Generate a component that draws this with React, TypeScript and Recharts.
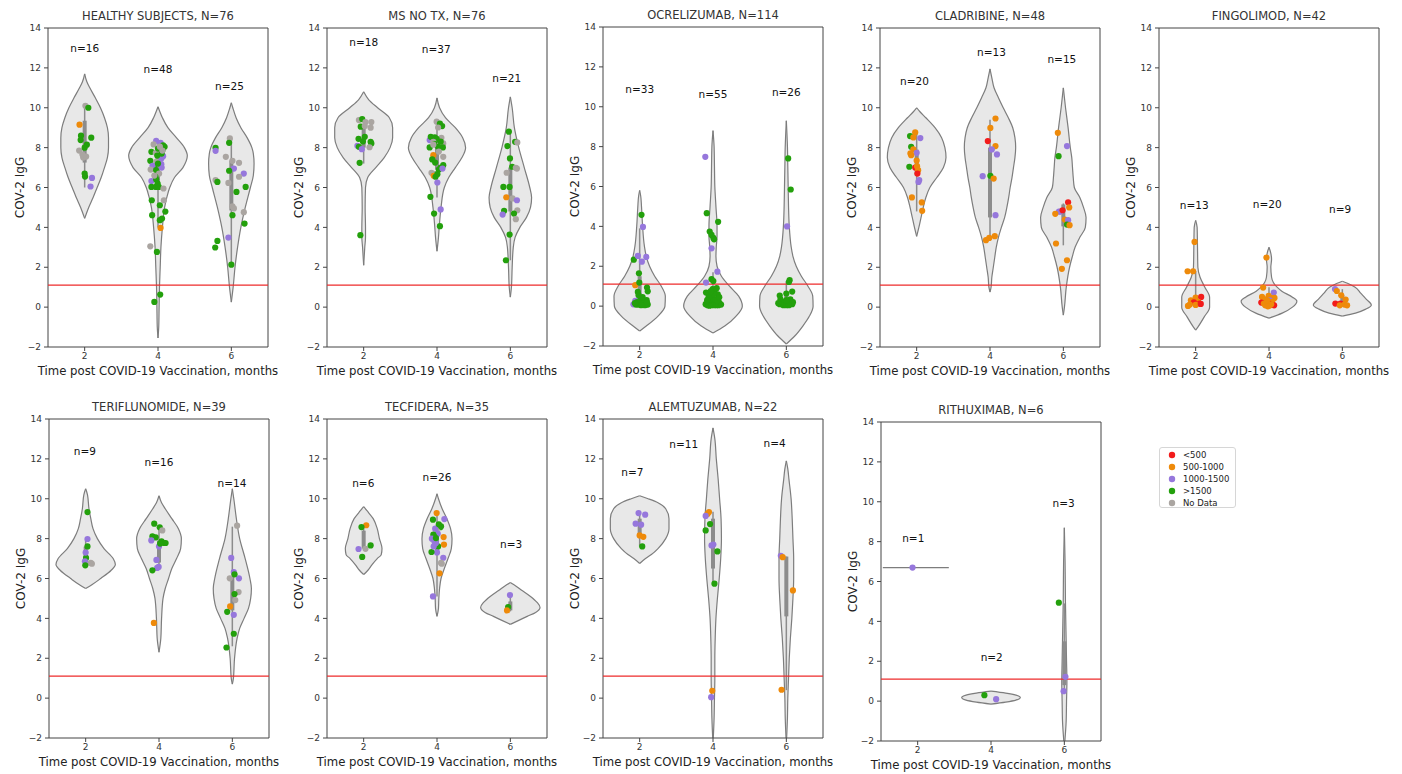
import React from 'react';
import {
  ComposedChart,
  Area,
  Line,
  Scatter,
  XAxis,
  YAxis,
  ReferenceLine,
  ReferenceArea,
  Label,
} from 'recharts';

type Profile = [number, number][]; // [IgG value, half width in months]
type Box = [number, number, number, number]; // whisker low, q1, q3, whisker high
type Pt = [number, number, string]; // month (jittered), IgG, titer group
type NLabel = [number, number, string];

const MONTHS = [2, 4, 6];
const Y_TICKS = [-2, 0, 2, 4, 6, 8, 10, 12, 14];
const CUTOFF = 1.1;
const X_LABEL = 'Time post COVID-19 Vaccination, months';
const Y_LABEL = 'COV-2 IgG';

const GROUP_KEYS = ['r', 'o', 'p', 'g', 'n'];
const GROUP_LABELS = ['<500', '500-1000', '1000-1500', '>1500', 'No Data'];
const COLORS: Record<string, string> = {
  r: '#f21b1b',
  o: '#ee8a0a',
  p: '#9677dc',
  g: '#23a00c',
  n: '#aaa5a1',
};

// ---------- HEALTHY SUBJECTS ----------
const hsV2: Profile = [[4.45, 0], [5, 0.11], [5.5, 0.23], [6, 0.34], [6.5, 0.45], [7, 0.54], [7.5, 0.62], [8, 0.65], [8.5, 0.65], [9, 0.62], [9.5, 0.54], [10, 0.43], [10.5, 0.29], [11, 0.14], [11.3, 0.06], [11.7, 0]];
const hsV4: Profile = [[-1.55, 0], [-1, 0.02], [0, 0.03], [1, 0.04], [2, 0.06], [3, 0.08], [4, 0.12], [5, 0.18], [5.5, 0.24], [6, 0.32], [6.5, 0.45], [7, 0.68], [7.6, 0.8], [8, 0.72], [8.5, 0.5], [9, 0.27], [9.5, 0.12], [10.05, 0]];
const hsV6: Profile = [[0.25, 0], [1, 0.05], [2, 0.1], [3, 0.17], [4, 0.26], [5, 0.38], [6, 0.52], [6.6, 0.6], [7.2, 0.62], [7.7, 0.6], [8, 0.56], [8.5, 0.43], [9, 0.26], [9.5, 0.13], [10, 0.04], [10.25, 0]];
const hsBoxes: Box[] = [[6.0, 7.25, 9.35, 10.0], [4.0, 6.0, 8.0, 8.3], [2.15, 4.85, 7.35, 8.45]];
const hsPoints: Pt[] = [
  [2.02, 10.1, 'n'], [2.1, 10.0, 'g'], [1.86, 9.15, 'o'], [1.9, 8.6, 'g'], [2.18, 8.5, 'g'], [1.89, 8.38, 'g'], [2.06, 8.15, 'g'], [1.85, 7.85, 'n'],
  [1.94, 7.65, 'n'], [1.96, 7.5, 'n'], [2.0, 6.7, 'g'], [2.01, 6.55, 'g'], [2.2, 6.48, 'p'], [2.16, 6.05, 'p'], [2.0, 8.0, 'g'], [2.04, 7.55, 'n'],
  [3.95, 8.34, 'p'], [4.07, 8.24, 'p'], [3.88, 8.16, 'n'], [4.14, 8.11, 'g'], [4.18, 8.04, 'g'], [4.12, 7.87, 'g'], [4.05, 7.96, 'p'], [3.82, 7.79, 'g'],
  [3.94, 7.74, 'n'], [4.14, 7.57, 'p'], [4.0, 7.54, 'n'], [4.09, 7.46, 'p'], [3.79, 7.34, 'g'], [3.95, 7.29, 'n'], [4.09, 7.17, 'p'], [3.89, 7.04, 'g'],
  [3.85, 7.09, 'p'], [3.8, 6.9, 'n'], [3.95, 6.87, 'g'], [4.03, 6.7, 'n'], [3.93, 6.54, 'g'], [3.82, 6.32, 'p'], [3.95, 6.4, 'g'], [3.99, 6.2, 'g'],
  [3.82, 6.03, 'g'], [3.94, 6.03, 'g'], [4.02, 6.03, 'g'], [4.15, 5.95, 'n'], [4.16, 5.36, 'n'], [3.83, 5.36, 'g'], [4.05, 5.11, 'g'], [4.2, 4.79, 'g'],
  [3.84, 4.61, 'g'], [4.11, 4.44, 'g'], [4.05, 4.36, 'g'], [4.07, 3.97, 'o'], [3.79, 3.05, 'n'], [3.97, 2.77, 'g'], [4.06, 0.63, 'g'], [3.9, 0.26, 'g'],
  [4.1, 7.7, 'g'], [4.0, 7.95, 'g'], [4.05, 8.05, 'n'], [3.98, 7.6, 'g'], [4.1, 7.0, 'p'], [3.9, 6.6, 'n'], [4.0, 7.2, 'g'], [4.12, 7.85, 'n'],
  [5.96, 8.46, 'n'], [5.94, 8.24, 'g'], [5.57, 7.99, 'g'], [5.57, 7.84, 'p'], [5.85, 7.54, 'n'], [6.03, 7.34, 'n'], [6.21, 7.24, 'n'], [6.07, 6.95, 'p'],
  [6.34, 6.7, 'p'], [5.94, 6.84, 'g'], [6.21, 6.54, 'n'], [5.57, 6.37, 'n'], [5.62, 6.28, 'g'], [5.92, 6.23, 'n'], [6.14, 5.78, 'g'], [6.39, 6.03, 'g'],
  [6.03, 5.06, 'n'], [6.07, 4.95, 'n'], [6.03, 4.61, 'g'], [6.34, 4.76, 'n'], [6.36, 4.19, 'g'], [5.92, 3.49, 'p'], [5.62, 3.32, 'g'], [5.56, 2.99, 'g'], [6.0, 2.13, 'g'],
];
const hsN: NLabel[] = [[2, 13.0, 'n=16'], [4, 11.95, 'n=48'], [5.95, 11.1, 'n=25']];

// ---------- MS NO TX ----------
const msV2: Profile = [[2.1, 0], [3, 0.03], [3.5, 0.05], [4, 0.05], [5, 0.04], [6, 0.05], [6.5, 0.11], [7, 0.33], [7.5, 0.56], [8, 0.72], [8.5, 0.79], [9, 0.79], [9.5, 0.7], [10, 0.38], [10.4, 0.14], [10.8, 0]];
const msV4: Profile = [[2.8, 0], [3.5, 0.04], [4, 0.06], [5, 0.11], [6, 0.2], [6.5, 0.32], [7, 0.5], [7.5, 0.68], [8, 0.78], [8.5, 0.7], [9, 0.5], [9.5, 0.23], [10, 0.07], [10.5, 0]];
const msV6: Profile = [[0.5, 0], [1, 0.03], [2, 0.05], [3, 0.08], [3.5, 0.13], [4, 0.26], [4.5, 0.44], [5, 0.55], [5.5, 0.58], [6, 0.53], [7, 0.38], [8, 0.23], [9, 0.11], [10, 0.05], [10.55, 0]];
const msBoxes: Box[] = [[7.2, 8.0, 9.1, 9.35], [5.5, 6.9, 8.4, 9.3], [2.35, 4.8, 7.0, 8.7]];
const msPoints: Pt[] = [
  [1.87, 9.38, 'n'], [1.96, 9.43, 'g'], [2.05, 9.28, 'n'], [2.21, 9.28, 'n'], [1.92, 9.05, 'g'], [2.03, 9.08, 'n'], [2.19, 9.0, 'n'], [1.86, 8.44, 'g'],
  [2.03, 8.54, 'g'], [1.98, 8.31, 'g'], [2.19, 8.29, 'g'], [2.21, 8.21, 'g'], [1.83, 8.09, 'p'], [1.87, 8.04, 'g'], [2.16, 8.02, 'n'], [1.95, 7.92, 'p'],
  [1.89, 7.24, 'g'], [1.91, 3.61, 'g'],
  [3.99, 9.3, 'n'], [4.08, 9.21, 'g'], [4.14, 9.08, 'g'], [4.03, 9.01, 'n'], [3.8, 8.38, 'p'], [3.83, 8.54, 'g'], [3.94, 8.51, 'g'], [4.12, 8.49, 'n'],
  [3.99, 8.44, 'g'], [3.9, 8.29, 'n'], [3.94, 8.18, 'g'], [4.17, 8.21, 'n'], [4.08, 8.13, 'n'], [4.03, 8.04, 'g'], [4.16, 8.01, 'g'], [3.8, 8.01, 'g'],
  [3.9, 7.62, 'o'], [3.87, 7.41, 'g'], [4.17, 7.54, 'n'], [4.17, 7.12, 'g'], [4.1, 7.0, 'g'], [4.05, 6.9, 'g'], [4.15, 6.95, 'p'], [3.85, 6.74, 'n'],
  [3.92, 6.67, 'n'], [3.91, 6.59, 'o'], [3.96, 6.54, 'g'], [4.01, 6.67, 'g'], [4.01, 6.25, 'p'], [3.82, 5.53, 'g'], [4.1, 4.9, 'p'], [3.92, 4.69, 'g'],
  [4.08, 4.06, 'g'], [4.1, 8.3, 'g'], [4.05, 7.8, 'n'], [3.95, 7.25, 'g'], [3.9, 8.15, 'n'],
  [5.96, 8.8, 'g'], [6.13, 8.29, 'g'], [6.19, 8.26, 'n'], [5.92, 8.08, 'g'], [5.99, 7.46, 'g'], [6.05, 7.04, 'g'], [6.15, 6.99, 'n'], [6.18, 6.95, 'n'],
  [5.9, 6.74, 'n'], [5.81, 6.03, 'g'], [5.98, 6.03, 'g'], [5.89, 5.51, 'o'], [6.06, 5.45, 'n'], [6.18, 5.36, 'p'], [5.83, 4.83, 'g'], [6.19, 4.86, 'n'],
  [5.79, 4.64, 'p'], [6.1, 4.69, 'g'], [6.15, 4.41, 'n'], [5.98, 3.64, 'g'], [5.88, 2.35, 'g'],
];
const msN: NLabel[] = [[2, 13.3, 'n=18'], [3.98, 12.93, 'n=37'], [5.9, 11.47, 'n=21']];

// ---------- OCRELIZUMAB ----------
const ocV2: Profile = [[-1.25, 0], [-1, 0.18], [-0.5, 0.5], [0, 0.69], [0.5, 0.7], [1, 0.59], [1.5, 0.41], [2, 0.27], [2.5, 0.18], [3, 0.13], [4, 0.08], [5, 0.05], [5.5, 0.03], [5.8, 0]];
const ocV4: Profile = [[-1.35, 0], [-1, 0.32], [-0.5, 0.63], [0, 0.8], [0.5, 0.7], [1, 0.45], [1.5, 0.23], [2, 0.11], [2.5, 0.08], [3, 0.09], [3.5, 0.11], [4, 0.11], [5, 0.08], [6, 0.05], [7, 0.04], [8, 0.03], [8.8, 0]];
const ocV6: Profile = [[-1.9, 0], [-1.5, 0.23], [-1, 0.45], [-0.5, 0.63], [0, 0.73], [0.5, 0.72], [1, 0.59], [1.5, 0.41], [2, 0.27], [2.5, 0.18], [3, 0.13], [4, 0.08], [5, 0.06], [6, 0.05], [7, 0.04], [8, 0.03], [9.3, 0]];
const ocBoxes: Box[] = [[0.05, 0.15, 1.5, 3.9], [0.05, 0.1, 1.0, 1.7], [0.05, 0.1, 0.6, 1.25]];
const ocPoints: Pt[] = [
  [2.05, 4.58, 'g'], [2.09, 3.97, 'p'], [1.84, 2.33, 'g'], [1.95, 2.52, 'p'], [2.18, 2.47, 'p'], [2.06, 2.23, 'p'], [1.98, 1.65, 'g'], [1.88, 1.05, 'o'],
  [1.99, 1.18, 'g'], [1.95, 0.71, 'g'], [2.2, 0.93, 'g'], [2.22, 0.74, 'g'], [2.02, 0.34, 'g'], [1.88, 0.26, 'p'], [1.83, 0.09, 'p'],
  [1.9, 0.08, 'g'], [1.96, 0.08, 'g'], [2.03, 0.08, 'g'], [2.1, 0.08, 'g'], [2.17, 0.08, 'g'], [2.22, 0.08, 'g'], [2.06, 0.25, 'g'], [2.15, 0.25, 'g'],
  [2.0, 0.15, 'g'], [2.12, 0.15, 'g'], [1.93, 0.2, 'g'], [2.19, 0.3, 'g'], [2.08, 0.45, 'g'], [1.97, 0.55, 'g'], [2.14, 0.05, 'g'], [1.87, 0.15, 'g'],
  [2.04, 0.05, 'g'], [2.2, 0.18, 'g'],
  [3.79, 7.49, 'p'], [3.83, 4.66, 'g'], [4.14, 4.23, 'g'], [3.91, 3.74, 'g'], [3.96, 3.57, 'g'], [4.01, 3.42, 'g'], [4.03, 3.35, 'g'], [3.96, 2.9, 'p'],
  [4.12, 1.73, 'p'], [3.81, 1.18, 'p'], [3.96, 1.35, 'g'], [4.01, 1.26, 'g'], [3.81, 0.68, 'g'], [3.87, 0.64, 'g'], [3.99, 0.85, 'g'], [4.04, 0.71, 'g'],
  [4.13, 0.59, 'g'], [3.83, 0.12, 'g'], [3.89, 0.12, 'g'], [3.95, 0.12, 'g'], [4.01, 0.12, 'g'], [4.07, 0.12, 'g'], [4.12, 0.12, 'g'], [4.19, 0.12, 'g'],
  [3.86, 0.27, 'g'], [3.92, 0.24, 'g'], [3.98, 0.24, 'g'], [4.05, 0.24, 'g'], [4.1, 0.2, 'g'], [4.16, 0.2, 'g'], [3.96, 0.05, 'g'], [4.03, 0.05, 'g'],
  [3.85, 0.05, 'g'], [4.09, 0.05, 'g'], [4.15, 0.05, 'g'], [3.93, 0.35, 'g'], [4.0, 0.4, 'g'], [4.22, 0.08, 'g'], [3.8, 0.1, 'g'], [4.07, 0.32, 'g'],
  [3.9, 0.02, 'g'], [4.12, 0.3, 'g'], [3.88, 0.45, 'g'], [4.17, 0.45, 'g'], [4.02, 0.6, 'g'], [3.94, 0.75, 'g'], [4.1, 0.9, 'g'], [3.84, 0.3, 'g'],
  [6.05, 7.41, 'g'], [6.12, 5.85, 'g'], [6.02, 4.0, 'p'], [6.09, 1.3, 'g'], [6.07, 1.21, 'g'], [6.0, 0.63, 'g'], [6.16, 0.73, 'g'], [5.82, 0.53, 'g'],
  [5.84, 0.34, 'g'], [6.11, 0.34, 'g'], [5.82, 0.1, 'g'], [5.89, 0.1, 'g'], [5.95, 0.1, 'g'], [6.02, 0.1, 'g'], [6.09, 0.1, 'g'], [6.16, 0.1, 'g'],
  [5.87, 0.22, 'g'], [5.96, 0.22, 'g'], [6.05, 0.22, 'g'], [6.13, 0.22, 'g'], [6.18, 0.2, 'g'], [5.92, 0.05, 'g'], [6.0, 0.05, 'g'], [6.07, 0.05, 'g'],
  [5.78, 0.15, 'g'], [6.0, 0.3, 'g'],
];
const ocN: NLabel[] = [[2, 10.9, 'n=33'], [4, 10.65, 'n=55'], [6, 10.72, 'n=26']];

// ---------- CLADRIBINE ----------
const clV2: Profile = [[3.55, 0], [4, 0.06], [4.5, 0.12], [5, 0.18], [5.5, 0.25], [6, 0.36], [6.5, 0.55], [7, 0.73], [7.5, 0.8], [8, 0.77], [8.5, 0.68], [9, 0.5], [9.5, 0.25], [9.8, 0.09], [10, 0]];
const clV4: Profile = [[0.75, 0], [1, 0.03], [1.5, 0.05], [2, 0.09], [2.5, 0.13], [3, 0.17], [3.5, 0.23], [4, 0.31], [4.5, 0.4], [5, 0.46], [5.5, 0.51], [6, 0.55], [6.5, 0.6], [7, 0.64], [7.5, 0.68], [8, 0.7], [8.5, 0.68], [9, 0.62], [9.5, 0.5], [10, 0.36], [10.5, 0.23], [11, 0.11], [11.5, 0.05], [11.95, 0]];
const clV6: Profile = [[-0.4, 0], [0, 0.03], [1, 0.08], [2, 0.17], [2.5, 0.24], [3, 0.32], [3.5, 0.45], [4, 0.6], [4.5, 0.62], [5, 0.55], [5.5, 0.45], [6, 0.3], [6.5, 0.27], [7, 0.25], [7.5, 0.23], [8, 0.19], [9, 0.13], [10, 0.06], [11, 0]];
const clBoxes: Box[] = [[4.8, 6.6, 7.9, 8.7], [3.4, 4.5, 8.0, 9.4], [3.1, 4.05, 5.15, 5.2]];
const clPoints: Pt[] = [
  [1.96, 8.76, 'o'], [1.82, 8.58, 'g'], [1.91, 8.51, 'o'], [2.1, 8.48, 'p'], [1.85, 8.04, 'g'], [1.91, 7.91, 'o'], [2.0, 7.74, 'p'], [1.83, 7.71, 'o'],
  [1.85, 7.62, 'o'], [1.8, 7.04, 'g'], [1.96, 7.0, 'r'], [2.01, 7.07, 'o'], [2.04, 6.87, 'o'], [2.02, 6.7, 'r'], [2.07, 6.37, 'p'], [2.05, 6.28, 'p'],
  [1.87, 5.5, 'o'], [2.14, 5.25, 'o'], [2.15, 4.83, 'o'], [2.0, 7.35, 'o'],
  [4.15, 9.46, 'o'], [4.01, 8.99, 'o'], [3.94, 8.33, 'r'], [4.15, 8.08, 'o'], [4.05, 7.91, 'p'], [4.19, 7.66, 'p'], [3.8, 6.57, 'p'], [4.01, 6.59, 'g'],
  [4.1, 6.45, 'o'], [4.15, 4.61, 'p'], [3.89, 3.36, 'o'], [3.98, 3.47, 'o'], [4.13, 3.56, 'o'],
  [5.85, 8.74, 'o'], [6.1, 8.08, 'p'], [5.87, 7.57, 'g'], [6.13, 5.26, 'r'], [6.16, 5.0, 'o'], [5.92, 4.79, 'p'], [5.88, 4.79, 'p'], [5.98, 4.86, 'r'],
  [5.78, 4.68, 'o'], [6.04, 4.39, 'o'], [6.13, 4.36, 'p'], [6.1, 4.14, 'g'], [6.17, 4.11, 'o'], [5.8, 3.19, 'o'], [6.1, 2.35, 'o'], [5.96, 1.92, 'o'],
];
const clN: NLabel[] = [[1.94, 11.35, 'n=20'], [4.04, 12.78, 'n=13'], [5.96, 12.43, 'n=15']];

// ---------- FINGOLIMOD ----------
const fiV2: Profile = [[-1.15, 0], [-1, 0.06], [-0.5, 0.23], [0, 0.38], [0.5, 0.38], [1, 0.25], [1.5, 0.12], [2, 0.06], [3, 0.05], [4, 0.04], [4.35, 0]];
const fiV4: Profile = [[-0.55, 0], [-0.3, 0.36], [0, 0.64], [0.3, 0.76], [0.5, 0.64], [0.8, 0.35], [1, 0.22], [1.5, 0.07], [2, 0.05], [2.4, 0.07], [2.7, 0.05], [3, 0]];
const fiV6: Profile = [[-0.45, 0], [-0.3, 0.36], [-0.1, 0.64], [0.1, 0.79], [0.4, 0.65], [0.7, 0.5], [1, 0.35], [1.2, 0.14], [1.3, 0]];
const fiBoxes: Box[] = [[0.05, 0.15, 0.45, 1.8], [0.05, 0.15, 0.5, 1.0], [0.07, 0.1, 0.6, 0.9]];
const fiPoints: Pt[] = [
  [1.97, 3.27, 'o'], [1.78, 1.8, 'o'], [1.93, 1.8, 'o'], [1.87, 0.34, 'o'], [2.0, 0.48, 'o'], [2.15, 0.51, 'r'], [2.07, 0.26, 'o'], [1.95, 0.24, 'r'],
  [2.11, 0.18, 'r'], [1.84, 0.13, 'o'], [1.79, 0.06, 'o'], [2.0, 0.11, 'o'], [2.14, 0.16, 'r'],
  [3.93, 2.49, 'o'], [3.84, 0.98, 'o'], [4.13, 0.73, 'p'], [3.99, 0.56, 'o'], [3.81, 0.51, 'o'], [3.91, 0.39, 'o'], [4.05, 0.46, 'o'], [4.15, 0.46, 'o'],
  [4.02, 0.34, 'p'], [3.79, 0.23, 'r'], [3.95, 0.26, 'o'], [4.09, 0.26, 'o'], [4.0, 0.18, 'r'], [3.9, 0.09, 'o'], [4.02, 0.08, 'o'], [4.14, 0.09, 'r'],
  [3.86, 0.18, 'o'], [3.95, 0.34, 'o'], [4.06, 0.14, 'o'], [3.97, 0.04, 'o'],
  [5.8, 0.91, 'p'], [5.85, 0.81, 'o'], [5.97, 0.59, 'o'], [6.09, 0.38, 'o'], [5.81, 0.18, 'r'], [5.95, 0.18, 'r'], [6.06, 0.13, 'o'], [6.13, 0.09, 'o'], [5.93, 0.09, 'o'],
];
const fiN: NLabel[] = [[1.96, 5.1, 'n=13'], [3.95, 5.16, 'n=20'], [5.94, 4.9, 'n=9']];

// ---------- TERIFLUNOMIDE ----------
const teV2: Profile = [[5.5, 0], [5.7, 0.18], [6, 0.41], [6.4, 0.69], [6.7, 0.81], [7, 0.75], [7.5, 0.5], [8, 0.32], [8.5, 0.2], [9, 0.14], [9.5, 0.09], [10.2, 0.05], [10.5, 0]];
const teV4: Profile = [[2.3, 0], [3, 0.05], [4, 0.07], [5, 0.11], [5.5, 0.17], [6, 0.26], [6.5, 0.35], [7, 0.48], [7.5, 0.59], [8, 0.61], [8.5, 0.53], [9, 0.35], [9.5, 0.17], [9.8, 0.07], [10.15, 0]];
const teV6: Profile = [[0.7, 0], [1, 0.03], [2, 0.06], [3, 0.13], [3.5, 0.2], [4, 0.32], [4.5, 0.44], [5, 0.5], [5.5, 0.52], [6, 0.48], [7, 0.35], [8, 0.2], [9, 0.11], [10, 0.04], [10.5, 0]];
const teBoxes: Box[] = [[6.7, 6.8, 7.6, 8.0], [6.5, 6.8, 7.9, 8.5], [2.6, 4.4, 6.1, 8.6]];
const tePoints: Pt[] = [
  [2.05, 9.33, 'g'], [2.05, 7.98, 'p'], [2.05, 7.61, 'g'], [2.01, 7.03, 'g'], [1.98, 6.86, 'p'], [2.14, 6.78, 'n'], [2.17, 6.74, 'n'], [1.99, 6.66, 'g'], [2.0, 7.3, 'p'],
  [3.87, 8.75, 'g'], [4.02, 8.57, 'g'], [4.09, 8.41, 'n'], [3.82, 8.11, 'g'], [3.91, 8.06, 'g'], [3.79, 7.91, 'p'], [4.07, 7.86, 'g'], [4.14, 7.78, 'g'],
  [4.18, 7.78, 'g'], [4.0, 7.61, 'p'], [4.03, 7.75, 'g'], [3.93, 6.93, 'p'], [3.95, 6.53, 'p'], [3.99, 6.58, 'p'], [3.82, 6.41, 'g'], [3.86, 3.77, 'o'],
  [6.13, 8.65, 'n'], [5.97, 7.03, 'p'], [6.04, 6.32, 'p'], [6.18, 6.01, 'p'], [5.93, 6.01, 'n'], [6.06, 6.21, 'g'], [6.17, 5.32, 'n'], [6.06, 5.22, 'g'],
  [6.08, 4.92, 'n'], [5.94, 4.6, 'o'], [5.86, 4.33, 'g'], [6.04, 4.18, 'p'], [6.04, 3.23, 'g'], [5.84, 2.54, 'g'],
];
const teN: NLabel[] = [[1.98, 12.38, 'n=9'], [4, 11.83, 'n=16'], [5.99, 10.8, 'n=14']];

// ---------- TECFIDERA ----------
const tcV2: Profile = [[6.2, 0], [6.4, 0.11], [6.7, 0.23], [7, 0.37], [7.2, 0.48], [7.5, 0.5], [8, 0.43], [8.5, 0.37], [9, 0.26], [9.4, 0.09], [9.6, 0]];
const tcV4: Profile = [[4.1, 0], [4.5, 0.04], [5, 0.05], [5.5, 0.07], [6, 0.11], [6.5, 0.2], [7, 0.3], [7.5, 0.39], [8, 0.41], [8.5, 0.37], [9, 0.27], [9.5, 0.14], [10, 0.04], [10.25, 0]];
const tcV6: Profile = [[3.7, 0], [3.9, 0.23], [4.1, 0.46], [4.3, 0.69], [4.55, 0.81], [4.8, 0.73], [5.1, 0.55], [5.4, 0.32], [5.7, 0.09], [5.8, 0]];
const tcBoxes: Box[] = [[7.5, 7.5, 8.4, 8.6], [5.1, 7.3, 8.5, 9.3], [4.35, 4.4, 4.85, 5.15]];
const tcPoints: Pt[] = [
  [2.07, 8.67, 'o'], [1.94, 8.58, 'g'], [2.05, 7.49, 'n'], [1.86, 7.48, 'p'], [2.19, 7.66, 'g'], [1.96, 7.08, 'g'],
  [3.99, 9.28, 'o'], [4.2, 8.98, 'p'], [3.89, 8.95, 'g'], [4.09, 8.57, 'g'], [4.01, 8.53, 'n'], [3.95, 8.5, 'p'], [4.11, 8.62, 'g'], [4.02, 8.25, 'p'],
  [3.9, 8.2, 'g'], [3.92, 8.11, 'g'], [4.18, 8.08, 'o'], [3.86, 8.0, 'p'], [3.93, 7.86, 'p'], [4.03, 7.61, 'g'], [3.97, 7.78, 'p'], [4.19, 7.7, 'o'],
  [4.0, 7.31, 'p'], [3.85, 7.33, 'g'], [4.17, 7.04, 'p'], [4.13, 6.74, 'n'], [4.11, 6.78, 'n'], [4.07, 6.26, 'o'], [3.89, 5.1, 'p'], [4.05, 8.72, 'g'],
  [3.91, 7.61, 'p'], [3.97, 8.03, 'g'],
  [5.99, 5.17, 'p'], [5.94, 4.57, 'g'], [5.91, 4.4, 'o'],
];
const tcN: NLabel[] = [[1.99, 10.8, 'n=6'], [4, 11.07, 'n=26'], [6.02, 7.75, 'n=3']];

// ---------- ALEMTUZUMAB ----------
const alV2: Profile = [[6.75, 0], [7, 0.16], [7.2, 0.32], [7.5, 0.5], [8, 0.71], [8.5, 0.8], [9, 0.8], [9.5, 0.71], [9.8, 0.5], [10, 0.23], [10.15, 0]];
const alV4: Profile = [[-2.3, 0], [-1, 0.03], [0, 0.04], [1, 0.05], [2, 0.05], [3, 0.06], [4, 0.08], [5, 0.12], [6, 0.17], [7, 0.21], [8, 0.23], [9, 0.22], [10, 0.18], [11, 0.14], [12, 0.09], [13, 0.05], [13.55, 0]];
const alV6: Profile = [[-2.3, 0], [-1, 0.03], [0, 0.04], [1, 0.06], [2, 0.08], [3, 0.11], [4, 0.15], [5, 0.18], [6, 0.2], [7, 0.2], [8, 0.18], [9, 0.16], [10, 0.13], [11, 0.07], [11.5, 0.04], [11.9, 0]];
const alBoxes: Box[] = [[7.6, 8.1, 9.0, 9.3], [5.7, 6.5, 9.0, 9.35], [0.4, 4.1, 7.1, 7.1]];
const alPoints: Pt[] = [
  [1.97, 9.28, 'p'], [2.15, 9.2, 'p'], [1.89, 8.75, 'p'], [2.04, 8.7, 'p'], [2.0, 8.16, 'o'], [2.1, 8.09, 'o'], [2.07, 7.61, 'g'],
  [3.89, 9.33, 'o'], [3.85, 9.24, 'o'], [3.8, 9.14, 'p'], [3.92, 8.73, 'g'], [3.8, 8.41, 'g'], [4.01, 7.7, 'p'], [3.96, 7.66, 'p'], [4.12, 7.36, 'g'],
  [4.04, 5.74, 'g'], [3.98, 0.37, 'o'], [3.95, 0.05, 'p'],
  [5.85, 7.14, 'p'], [5.9, 7.07, 'o'], [6.18, 5.4, 'o'], [5.87, 0.42, 'o'],
];
const alN: NLabel[] = [[1.8, 11.36, 'n=7'], [3.2, 12.76, 'n=11'], [5.68, 12.8, 'n=4']];

// ---------- RITHUXIMAB ----------
const riSingle: [number, number, number] = [1.05, 2.85, 6.7]; // n=1 drawn as a flat line
const riV4: Profile = [[-0.15, 0], [-0.05, 0.4], [0.05, 0.68], [0.18, 0.8], [0.3, 0.68], [0.4, 0.4], [0.5, 0]];
const riV6: Profile = [[-2.3, 0], [-1, 0.05], [0, 0.06], [1, 0.07], [2, 0.06], [3, 0.05], [5, 0.03], [7, 0.02], [8.7, 0]];
const riBoxes: (Box | null)[] = [null, null, [0.5, 0.8, 3.0, 4.9]];
const riPoints: Pt[] = [
  [1.86, 6.7, 'p'], [3.82, 0.3, 'g'], [4.14, 0.1, 'p'], [5.85, 4.94, 'g'], [6.03, 1.22, 'p'], [5.98, 0.5, 'p'],
];
const riN: NLabel[] = [[1.88, 8.17, 'n=1'], [4.02, 2.22, 'n=2'], [5.98, 9.93, 'n=3']];

interface PanelDef {
  title: string;
  left: number;
  top: number;
  violins: (Profile | null)[];
  boxes: (Box | null)[];
  points: Pt[];
  ns: NLabel[];
  single?: [number, number, number];
}

const PANELS: PanelDef[] = [
  { title: 'HEALTHY SUBJECTS, N=76', left: 48, top: 28, violins: [hsV2, hsV4, hsV6], boxes: hsBoxes, points: hsPoints, ns: hsN },
  { title: 'MS NO TX, N=76', left: 327, top: 28, violins: [msV2, msV4, msV6], boxes: msBoxes, points: msPoints, ns: msN },
  { title: 'OCRELIZUMAB, N=114', left: 603, top: 27, violins: [ocV2, ocV4, ocV6], boxes: ocBoxes, points: ocPoints, ns: ocN },
  { title: 'CLADRIBINE, N=48', left: 880, top: 28, violins: [clV2, clV4, clV6], boxes: clBoxes, points: clPoints, ns: clN },
  { title: 'FINGOLIMOD, N=42', left: 1159, top: 28, violins: [fiV2, fiV4, fiV6], boxes: fiBoxes, points: fiPoints, ns: fiN },
  { title: 'TERIFLUNOMIDE, N=39', left: 49, top: 419, violins: [teV2, teV4, teV6], boxes: teBoxes, points: tePoints, ns: teN },
  { title: 'TECFIDERA, N=35', left: 327, top: 419, violins: [tcV2, tcV4, tcV6], boxes: tcBoxes, points: tcPoints, ns: tcN },
  { title: 'ALEMTUZUMAB, N=22', left: 603, top: 419, violins: [alV2, alV4, alV6], boxes: alBoxes, points: alPoints, ns: alN },
  { title: 'RITHUXIMAB, N=6', left: 881, top: 422, violins: [null, riV4, riV6], boxes: riBoxes, points: riPoints, ns: riN, single: riSingle },
];

const FONT = '"DejaVu Sans", sans-serif';
const PLOT_W = 220;
const PLOT_H = 319;
const ML = 40;
const MT = 28;
const MR = 10;
const XH = 36;

const fmtTick = (v: number) => (v < 0 ? `\u2212${Math.abs(v)}` : `${v}`);

const dotShape = (p: any) => (
  <circle cx={p.cx} cy={p.cy} r={3.1} fill={COLORS[p.payload.c]} />
);

const textShape = (p: any) => (
  <text x={p.cx} y={p.cy} textAnchor="middle" dominantBaseline="central" fontSize={10.5} fill="#111" fontFamily={FONT}>
    {p.payload.t}
  </text>
);

const yLabel = (p: any) => {
  const vb = p.viewBox;
  const x = vb.x + 12;
  const y = vb.y + vb.height / 2;
  return (
    <text x={x} y={y} transform={`rotate(-90 ${x} ${y})`} textAnchor="middle" dominantBaseline="central" fontSize={12} fill="#222" fontFamily={FONT}>
      {Y_LABEL}
    </text>
  );
};

function Panel({ def }: { def: PanelDef }) {
  const tick = { fontSize: 9, fill: '#333', fontFamily: FONT };
  return (
    <div style={{ position: 'absolute', left: def.left - ML, top: def.top - MT }}>
      <div
        style={{
          position: 'absolute',
          left: ML,
          top: MT - 18,
          width: PLOT_W,
          textAlign: 'center',
          fontSize: 11.5,
          fontWeight: 'normal',
          lineHeight: '12px',
          color: '#333',
          whiteSpace: 'nowrap',
        }}
      >
        {def.title}
      </div>
      <ComposedChart
        layout="vertical"
        width={ML + PLOT_W + MR}
        height={MT + PLOT_H + XH}
        margin={{ top: MT, right: MR, bottom: 0, left: 0 }}
      >
        <XAxis
          type="number"
          dataKey="x"
          domain={[1, 7]}
          ticks={MONTHS}
          allowDataOverflow
          height={XH}
          axisLine={false}
          tickSize={4}
          tickLine={{ stroke: '#444' }}
          tick={tick}
          label={{ value: X_LABEL, position: 'insideBottom', offset: 8, fontSize: 11.7, fill: '#222', fontFamily: FONT }}
        />
        <YAxis
          type="number"
          dataKey="y"
          domain={[-2, 14]}
          ticks={Y_TICKS}
          reversed
          allowDataOverflow
          width={ML}
          axisLine={false}
          tickSize={4}
          tickMargin={3}
          tickLine={{ stroke: '#444' }}
          tick={tick}
          tickFormatter={fmtTick}
        >
          <Label content={yLabel} />
        </YAxis>
        {def.violins.map((prof, i) =>
          prof ? (
            <Area
              key={`v${i}`}
              data={prof.map(([y, hw]) => ({ y, w: [MONTHS[i] - hw, MONTHS[i] + hw] }))}
              dataKey="w"
              type="monotone"
              fill="#e8e8e8"
              fillOpacity={1}
              stroke="#7d7d7d"
              strokeWidth={1.2}
              dot={false}
              activeDot={false}
              isAnimationActive={false}
            />
          ) : null,
        )}
        {def.single ? (
          <Line
            data={[
              { x: def.single[0], y: def.single[2] },
              { x: def.single[1], y: def.single[2] },
            ]}
            dataKey="x"
            stroke="#7d7d7d"
            strokeWidth={1.2}
            dot={false}
            activeDot={false}
            isAnimationActive={false}
          />
        ) : null}
        {def.boxes.map((b, i) =>
          b ? (
            <Line
              key={`w${i}`}
              data={[
                { x: MONTHS[i], y: b[0] },
                { x: MONTHS[i], y: b[3] },
              ]}
              dataKey="x"
              stroke="#8c8c8c"
              strokeWidth={1.5}
              dot={false}
              activeDot={false}
              isAnimationActive={false}
            />
          ) : null,
        )}
        {def.boxes.map((b, i) =>
          b ? (
            <Line
              key={`b${i}`}
              data={[
                { x: MONTHS[i], y: b[1] },
                { x: MONTHS[i], y: b[2] },
              ]}
              dataKey="x"
              stroke="#8c8c8c"
              strokeWidth={4}
              dot={false}
              activeDot={false}
              isAnimationActive={false}
            />
          ) : null,
        )}
        <ReferenceLine y={CUTOFF} stroke="#ee2b2b" strokeWidth={1.3} />
        <Scatter
          data={def.points.map(([x, y, c]) => ({ x, y, c }))}
          shape={dotShape}
          isAnimationActive={false}
        />
        <Scatter
          data={def.ns.map(([x, y, t]) => ({ x, y, t }))}
          shape={textShape}
          isAnimationActive={false}
        />
        <ReferenceArea x1={1} x2={7} y1={-2} y2={14} fill="none" stroke="#444" strokeWidth={1} />
      </ComposedChart>
    </div>
  );
}

function Legend() {
  return (
    <div
      style={{
        position: 'absolute',
        left: 1159,
        top: 447,
        width: 77,
        height: 61,
        border: '1px solid #d6d6d6',
        borderRadius: 3,
        background: '#fff',
        boxSizing: 'border-box',
      }}
    >
      {GROUP_KEYS.map((k, i) => (
        <div
          key={k}
          style={{
            position: 'absolute',
            left: 8,
            top: 1 + i * 12,
            height: 12,
            display: 'flex',
            alignItems: 'center',
            fontSize: 8.5,
            color: '#222',
          }}
        >
          <svg width={8} height={8} style={{ marginRight: 7 }}>
            <circle cx={4} cy={4} r={3.2} fill={COLORS[k]} />
          </svg>
          {GROUP_LABELS[i]}
        </div>
      ))}
    </div>
  );
}

export default function App() {
  return (
    <div
      style={{
        position: 'absolute',
        left: 0,
        top: 0,
        width: 1402,
        height: 774,
        background: '#fff',
        fontFamily: FONT,
        overflow: 'hidden',
      }}
    >
      {PANELS.map((p) => (
        <Panel key={p.title} def={p} />
      ))}
      <Legend />
    </div>
  );
}
